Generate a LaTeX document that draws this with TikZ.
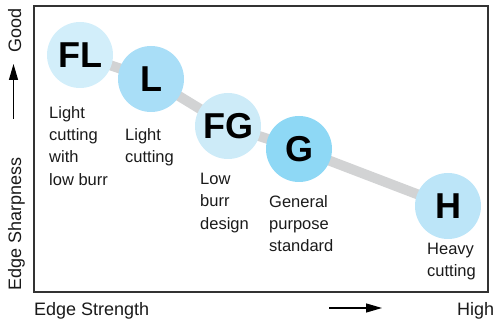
\documentclass[tikz,border=0pt]{standalone}
\usepackage{fontspec}
\setmainfont{Liberation Sans}
\usetikzlibrary{arrows.meta, backgrounds}
\definecolor{flblue}{HTML}{D2EEFA}
\definecolor{lblue}{HTML}{A9DEF7}
\definecolor{fgblue}{HTML}{CDEBF8}
\definecolor{gblue}{HTML}{8ED8F5}
\definecolor{hblue}{HTML}{BCE5F8}
\definecolor{linkgray}{HTML}{D2D3D4}
\definecolor{txt}{HTML}{1A1A1A}

\begin{document}
\begin{tikzpicture}[x=1pt, y=-1pt, >={Triangle[length=16pt, width=9pt]},
    bubble/.style={circle, minimum size=66pt, inner sep=0pt,
      font=\fontsize{36}{36}\selectfont\bfseries},
    note/.style={anchor=north west, inner sep=0pt, align=left, text=txt,
      font=\fontsize{16.5}{22.3}\selectfont},
    axislbl/.style={inner sep=0pt, text=txt, font=\fontsize{18}{18}\selectfont},
    link/.style={line width=10pt, draw=linkgray}]
    \useasboundingbox (0,0) rectangle (493,323);
    % Frame
    \draw[line width=1.2pt, draw=black!80] (34,6) rectangle (488,292);
    % Grades
    \foreach \nm/\lbl/\px/\py/\col in {fl/FL/80/55/flblue, l/L/151/79/lblue,
        fg/FG/228/126/fgblue, g/G/299/149/gblue, h/H/448/206/hblue} {
      \node[bubble, fill=\col] (\nm) at (\px,\py) {\lbl};
    }
    \begin{scope}[on background layer]
      \draw[link] (fl.center) -- (l.center) -- (fg.center) -- (g.center) -- (h.center);
    \end{scope}
    % Descriptions
    \node[note] (flnote) at (49,106) {Light\\cutting\\with\\low burr};
    \node[note] (lnote) at (125,128) {Light\\cutting};
    \node[note] (fgnote) at (200,173) {Low\\burr\\design};
    \node[note] (gnote) at (269,195) {General\\purpose\\standard};
    \node[note] (hnote) at (427,243) {Heavy\\cutting};
    % Axes
    \node[axislbl, anchor=north west] (xlbl) at (34,302) {Edge Strength};
    \node[axislbl, anchor=north west] (xhigh) at (457,302) {High};
    \coordinate (xa) at (329,308);
    \coordinate (xb) at (382,308);
    \draw[->, line width=1.3pt] (xa) -- (xb);
    \node[axislbl, rotate=90, anchor=base west] (ylbl) at (21,291) {Edge Sharpness};
    \node[axislbl, rotate=90, anchor=base west] (ygood) at (21,53) {Good};
    \coordinate (ya) at (13.5,119);
    \coordinate (yb) at (13.5,64);
    \draw[->, line width=1.3pt] (ya) -- (yb);
\end{tikzpicture}
\end{document}
